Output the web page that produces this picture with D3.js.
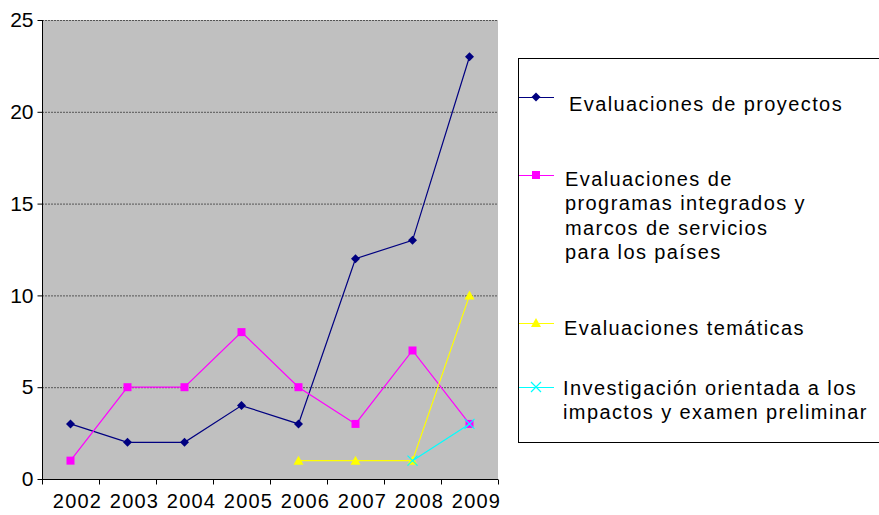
<!DOCTYPE html>
<html>
<head>
<meta charset="utf-8">
<script src="https://cdn.jsdelivr.net/npm/d3@7"></script>
<style>
  body { margin: 0; background: #fff; }
  text { font-family: Arial, "Liberation Sans", sans-serif; }
</style>
</head>
<body>
<div id="chart"></div>
<script>
// datos
var years = ["2002", "2003", "2004", "2005", "2006", "2007", "2008", "2009"];
var proyectos    = [3, 2, 2, 4, 3, 12, 13, 23];
var programas    = [1, 5, 5, 8, 5, 3, 7, 3];
var tematicas    = [null, null, null, null, 1, 1, 1, 10];
var investigacion = [null, null, null, null, null, null, 1, 3];
var yTicks = [0, 5, 10, 15, 20, 25];

var series = [
  { name: ["Evaluaciones de proyectos"], values: proyectos, color: "#000080", shape: "diamond" },
  { name: ["Evaluaciones de", "programas integrados y", "marcos de servicios", "para los países"], values: programas, color: "#FF00FF", shape: "square" },
  { name: ["Evaluaciones temáticas"], values: tematicas, color: "#FFFF00", shape: "triangle" },
  { name: ["Investigación orientada a los", "impactos y examen preliminar"], values: investigacion, color: "#00FFFF", shape: "cross" }
];

var width = 879, height = 515;
var plot = { left: 42, right: 498, top: 20, bottom: 479 };

var svg = d3.select("#chart").append("svg")
  .attr("width", width)
  .attr("height", height);

var x = d3.scaleBand().domain(years).range([plot.left, plot.right]);
var y = d3.scaleLinear().domain([0, 25]).range([plot.bottom, plot.top]);

// fondo gris
svg.append("rect")
  .attr("x", plot.left).attr("y", plot.top)
  .attr("width", plot.right - plot.left).attr("height", plot.bottom - plot.top)
  .attr("fill", "#C0C0C0");

// líneas de cuadrícula
svg.append("g").selectAll("line")
  .data(yTicks.slice(1))
  .enter().append("line")
  .attr("x1", plot.left).attr("x2", plot.right)
  .attr("y1", function(d) { return y(d) + 0.5; })
  .attr("y2", function(d) { return y(d) + 0.5; })
  .attr("stroke", "#555")
  .attr("stroke-width", 1)
  .attr("stroke-dasharray", "2,1");

// eje Y
var yAxis = svg.append("g")
  .attr("transform", "translate(" + (plot.left + 0.5) + ",0)")
  .call(d3.axisLeft(y).tickValues(yTicks).tickSize(5).tickPadding(4));
yAxis.select(".domain").attr("stroke", "#000").attr("d", "M0," + (plot.top) + "V" + (plot.bottom));
yAxis.selectAll(".tick line").attr("stroke", "#000");
yAxis.selectAll(".tick text").style("font-size", "21px").attr("fill", "#000");

// eje X
var xAxis = svg.append("g")
  .attr("transform", "translate(0," + (plot.bottom + 0.5) + ")")
  .call(d3.axisBottom(x).tickSize(0).tickPadding(14));
xAxis.select(".domain").attr("stroke", "#000").attr("d", "M" + plot.left + ",0H" + plot.right);
xAxis.selectAll(".tick text")
  .style("font-size", "20px")
  .attr("fill", "#000")
  .attr("dx", 7)
  .attr("letter-spacing", "1.2px");

// marcas entre categorías
xAxis.append("g").selectAll("line")
  .data(years.concat(["end"]))
  .enter().append("line")
  .attr("x1", function(d) { return (d === "end" ? plot.right : x(d)) + 0.5; })
  .attr("x2", function(d) { return (d === "end" ? plot.right : x(d)) + 0.5; })
  .attr("y1", 0).attr("y2", 5)
  .attr("stroke", "#000");

function cx(i) { return x(years[i]) + x.bandwidth() / 2; }

function drawMarker(g, shape, color, px, py) {
  if (shape === "diamond") {
    g.append("path")
      .attr("d", "M" + px + "," + (py - 4.5) + "L" + (px + 4.5) + "," + py + "L" + px + "," + (py + 4.5) + "L" + (px - 4.5) + "," + py + "Z")
      .attr("fill", color);
  } else if (shape === "square") {
    g.append("rect")
      .attr("x", px - 4).attr("y", py - 4).attr("width", 8).attr("height", 8)
      .attr("fill", color);
  } else if (shape === "triangle") {
    g.append("path")
      .attr("d", "M" + px + "," + (py - 5) + "L" + (px + 5) + "," + (py + 4) + "L" + (px - 5) + "," + (py + 4) + "Z")
      .attr("fill", color);
  } else {
    g.append("path")
      .attr("d", "M" + (px - 5) + "," + (py - 5) + "L" + (px + 5) + "," + (py + 5) + "M" + (px + 5) + "," + (py - 5) + "L" + (px - 5) + "," + (py + 5))
      .attr("stroke", color).attr("stroke-width", 1.2).attr("fill", "none");
  }
}

var line = d3.line()
  .defined(function(d) { return d != null; })
  .x(function(d, i) { return cx(i); })
  .y(function(d) { return y(d); });

series.forEach(function(s) {
  var g = svg.append("g");
  g.append("path")
    .datum(s.values)
    .attr("d", line)
    .attr("fill", "none")
    .attr("stroke", s.color)
    .attr("stroke-width", 1.2);
  s.values.forEach(function(v, i) {
    if (v != null) drawMarker(g, s.shape, s.color, cx(i), y(v));
  });
});

// leyenda
var legend = svg.append("g");
legend.append("rect")
  .attr("x", 518.5).attr("y", 58.5)
  .attr("width", 370).attr("height", 384)
  .attr("fill", "#fff").attr("stroke", "#000").attr("stroke-width", 1);

var legendRows = [
  { y: 97, textX: 569, base: 111 },
  { y: 175, textX: 565, base: 186 },
  { y: 323, textX: 564, base: 335 },
  { y: 387, textX: 563, base: 395 }
];

series.forEach(function(s, i) {
  var r = legendRows[i];
  legend.append("line")
    .attr("x1", 519).attr("x2", 554)
    .attr("y1", r.y + 0.5).attr("y2", r.y + 0.5)
    .attr("stroke", s.color).attr("stroke-width", 1.2);
  drawMarker(legend, s.shape, s.color, 536, r.y);
  s.name.forEach(function(t, j) {
    legend.append("text")
      .attr("x", r.textX)
      .attr("y", r.base + j * 24.4)
      .style("font-size", "20px")
      .attr("letter-spacing", "1.4px")
      .attr("fill", "#000")
      .text(t);
  });
});
</script>
</body>
</html>
